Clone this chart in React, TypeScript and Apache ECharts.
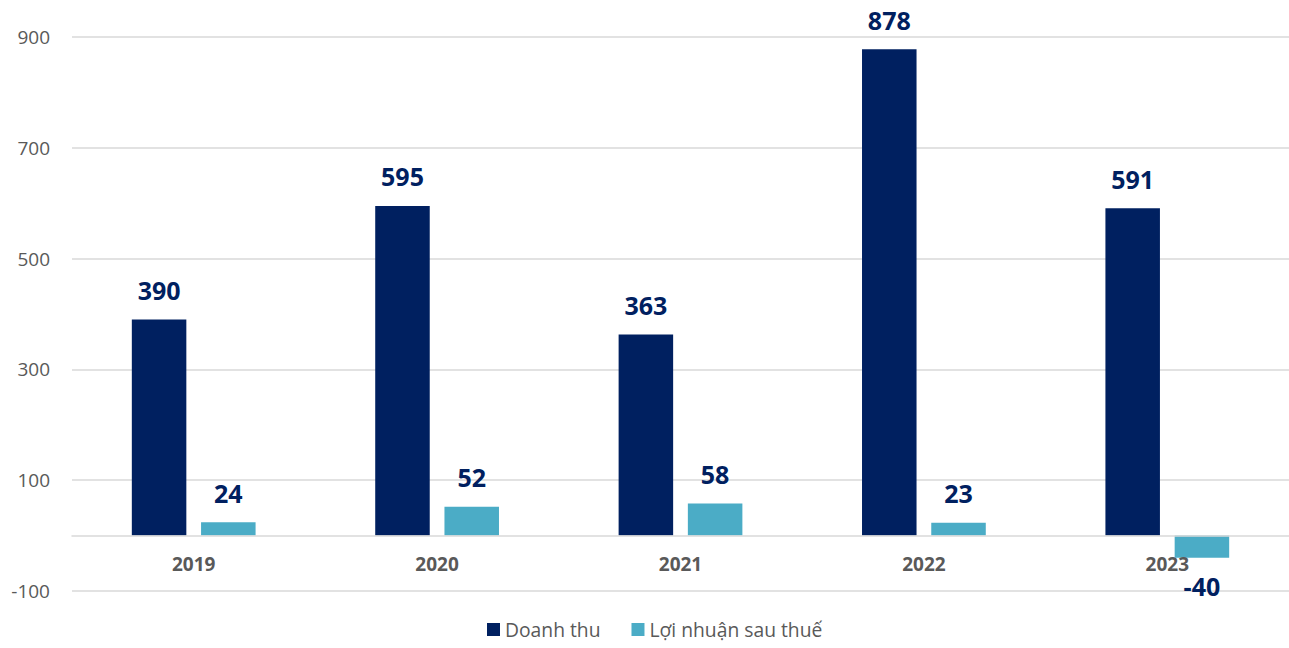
import React, { useEffect, useRef } from "react";
import * as echarts from "echarts";

const categories = ["2019", "2020", "2021", "2022", "2023"];
const revenue = [390, 595, 363, 878, 591];
const profit = [24, 52, 58, 23, -40];
const seriesNames = ["Doanh thu", "Lợi nhuận sau thuế"];
const yMin = -100;
const yMax = 900;
const yStep = 200;

const FONT = "'Open Sans', 'Noto Sans', sans-serif";
const NAVY = "#002060";
const TEAL = "#4BACC6";

export default function App() {
  const ref = useRef<HTMLDivElement>(null);
  useEffect(() => {
    if (!ref.current) return;
    const chart = echarts.init(ref.current, null, { renderer: "svg" });
    const gridTop = 37;
    const gridBottom = 57;
    const plotH = 648 - gridTop - gridBottom;
    const zeroOffset = (plotH * (0 - yMin)) / (yMax - yMin);
    const labelStyle = {
      show: true,
      color: NAVY,
      fontFamily: FONT,
      fontWeight: "bold" as const,
      fontSize: 25,
    };
    chart.setOption({
      animation: false,
      textStyle: { fontFamily: FONT },
      grid: { left: 72, right: 0, top: gridTop, bottom: gridBottom, containLabel: false },
      legend: {
        bottom: 4,
        left: 482,
        itemWidth: 13,
        itemHeight: 13,
        itemGap: 31,
        icon: "rect",
        textStyle: { color: "#595959", fontSize: 19.3, fontFamily: FONT },
        data: seriesNames,
      },
      xAxis: {
        type: "category",
        data: categories,
        offset: -zeroOffset,
        axisLine: { onZero: false, lineStyle: { color: "#d9d9d9", width: 1.5 } },
        axisTick: { show: false },
        axisLabel: {
          color: "#595959",
          fontWeight: "bold",
          fontSize: 19,
          fontFamily: FONT,
          margin: 19,
        },
        z: 10,
      },
      yAxis: {
        type: "value",
        min: yMin,
        max: yMax,
        interval: yStep,
        axisLine: { show: false },
        axisTick: { show: false },
        axisLabel: { color: "#595959", fontSize: 19, fontFamily: FONT, margin: 22 },
        splitLine: { lineStyle: { color: "#d9d9d9", width: 1.5 } },
      },
      series: [
        {
          name: seriesNames[0],
          type: "bar",
          data: revenue,
          barWidth: "22.4%",
          barGap: "27%",
          itemStyle: { color: NAVY },
          label: { ...labelStyle, position: "top", distance: 17 },
        },
        {
          name: seriesNames[1],
          type: "bar",
          data: profit.map((v) =>
            v < 0
              ? { value: v, label: { position: "bottom", distance: 16 } }
              : { value: v }
          ),
          barWidth: "22.4%",
          barGap: "27%",
          itemStyle: { color: TEAL },
          label: { ...labelStyle, position: "top", distance: 17 },
        },
      ],
    });
    return () => chart.dispose();
  }, []);
  return (
    <div
      ref={ref}
      style={{ position: "absolute", left: 0, top: 0, width: 1289, height: 648 }}
    />
  );
}
